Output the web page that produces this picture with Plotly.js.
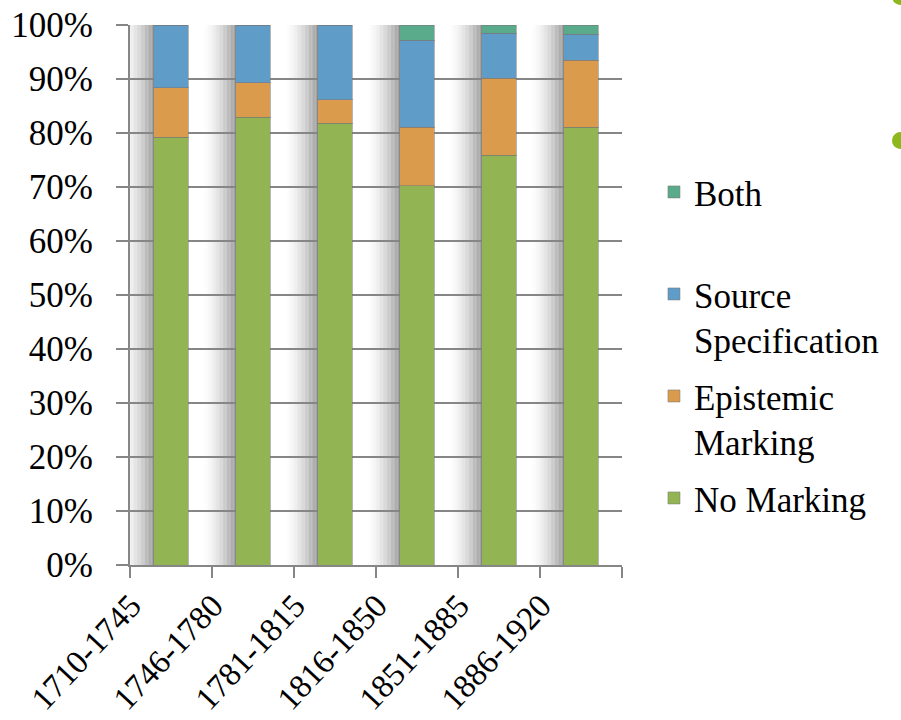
<!DOCTYPE html>
<html>
<head>
<meta charset="utf-8">
<script src="https://cdn.plot.ly/plotly-3.0.1.min.js"></script>
<style>
  html, body { margin: 0; padding: 0; background: #fff; overflow: hidden; }
  #chart { width: 901px; height: 720px; position: relative; }
  .dot { position: absolute; border-radius: 50%; background: #8cb81c; }
</style>
</head>
<body>
<div id="chart"></div>
<div class="dot" style="left:892px; top:-12px; width:17px; height:17px;"></div>
<div class="dot" style="left:892px; top:132px; width:17px; height:17px;"></div>
<script>
// ---- data (percent of each period) ----
const periods = ["1710-1745", "1746-1780", "1781-1815", "1816-1850", "1851-1885", "1886-1920"];
const noMarking = [79.2, 82.9, 81.8, 70.2, 75.9, 81.1];
const epistemicMarking = [9.2, 6.4, 4.4, 10.9, 14.2, 12.4];
const sourceSpecification = [11.6, 10.7, 13.8, 16.1, 8.4, 4.8];
const both = [0.0, 0.0, 0.0, 2.8, 1.5, 1.7];

const seriesNames = ["No Marking", "Epistemic<br>Marking", "Source<br>Specification", "Both<br>\u00a0"];
const seriesValues = [noMarking, epistemicMarking, sourceSpecification, both];
const seriesColors = ["#93b452", "#db9b4c", "#5f9cc7", "#5aab8c"];
const legendRanks = [4, 3, 2, 1];
const yTickVals = [0, 10, 20, 30, 40, 50, 60, 70, 80, 90, 100];

const FONT = '"Liberation Serif", "DejaVu Serif", serif';

const traces = seriesValues.map((vals, i) => ({
  type: 'bar',
  name: seriesNames[i],
  x: periods,
  y: vals,
  legendgroup: 'g' + i,
  legendrank: legendRanks[i],
  marker: { color: seriesColors[i], line: { color: 'rgba(120,120,120,0.55)', width: 1 } },
  hoverinfo: 'skip'
}));

// soft grey shadow to the left of each column (decoration)
const shapes = [];
const barHalf = 0.205, shadowW = 0.40, steps = 24;
periods.forEach((p, i) => {
  for (let s = 0; s < steps; s++) {
    const x0 = i - barHalf - shadowW + s * shadowW / steps;
    const x1 = x0 + shadowW / steps + 0.002;
    const t = (s + 1) / steps;
    const g = Math.round(255 - 100 * Math.pow(t, 1.6));
    shapes.push({
      type: 'rect', xref: 'x', yref: 'y', layer: 'below',
      x0: x0, x1: x1, y0: 0, y1: 100,
      fillcolor: `rgb(${g},${g},${g})`, line: { width: 0 }
    });
  }
});

const layout = {
  width: 901, height: 720,
  margin: { l: 130, r: 279, t: 25, b: 155 },
  barmode: 'stack',
  bargap: 0.585,
  paper_bgcolor: '#ffffff',
  plot_bgcolor: '#ffffff',
  font: { family: FONT, size: 35, color: '#000000' },
  showlegend: true,
  legend: {
    x: 1.065, xanchor: 'left',
    y: 0.745, yanchor: 'top',
    traceorder: 'grouped',
    tracegroupgap: 8,
    valign: 'top',
    font: { family: FONT, size: 35, color: '#000000' },
    bgcolor: 'rgba(0,0,0,0)',
    itemclick: false
  },
  xaxis: {
    type: 'category',
    range: [-0.5, 5.5],
    tickangle: -47,
    ticks: 'outside',
    tickson: 'boundaries',
    ticklen: 11,
    tickwidth: 2,
    tickcolor: '#868686',
    showline: true,
    linecolor: '#868686',
    linewidth: 2,
    showgrid: false,
    ticklabelshift: -40,
    ticklabelstandoff: 6,
    tickfont: { family: FONT, size: 33, color: '#000000' }
  },
  yaxis: {
    range: [0, 100],
    tickvals: yTickVals,
    ticktext: yTickVals.map(v => v + '%'),
    ticks: 'outside',
    ticklen: 12,
    tickwidth: 2,
    tickcolor: '#868686',
    showline: true,
    linecolor: '#868686',
    linewidth: 2,
    showgrid: true,
    gridcolor: '#868686',
    gridwidth: 2,
    zeroline: false,
    ticklabelstandoff: 16,
    tickfont: { family: FONT, size: 35, color: '#000000' }
  },
  shapes: shapes
};

Plotly.newPlot('chart', traces, layout, { staticPlot: true, displayModeBar: false });
</script>
</body>
</html>
